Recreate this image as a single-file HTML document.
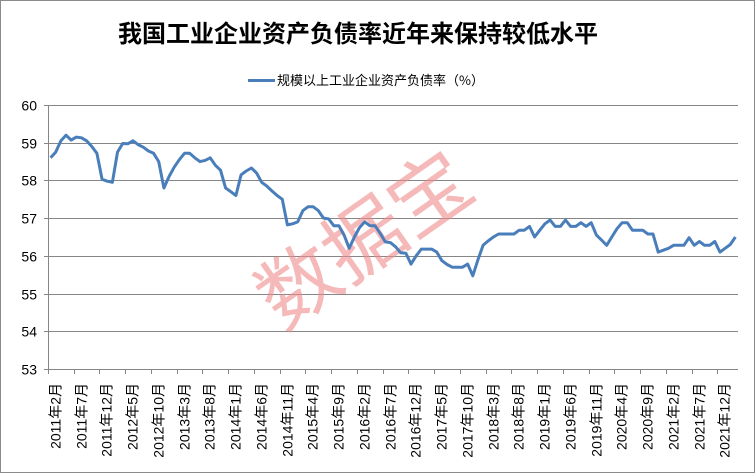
<!DOCTYPE html>
<html><head><meta charset="utf-8"><style>
html,body{margin:0;padding:0;background:#fff;}
svg{display:block;}
</style></head><body>
<svg width="755" height="473" xmlns="http://www.w3.org/2000/svg" font-family="Liberation Sans, Noto Sans CJK SC, sans-serif">
<rect x="0.5" y="0.5" width="754" height="472" fill="#fff" stroke="#8a8a8a"/>
<text x="358" y="42" text-anchor="middle" font-size="24" font-weight="bold" fill="#000" font-family="Noto Sans CJK SC, sans-serif">我国工业企业资产负债率近年来保持较低水平</text>
<line x1="248" y1="80.5" x2="275" y2="80.5" stroke="#4a7ebb" stroke-width="3"/>
<text x="277" y="85" font-size="13" fill="#000" font-family="Noto Sans CJK SC, sans-serif">规模以上工业企业资产负债率（%）</text>
<g id="grid" stroke="#868686" stroke-width="1"></g>
<g id="ylab" font-size="14" fill="#000" text-anchor="end"></g>
<g id="xlab" font-size="14" fill="#000" font-family="Liberation Sans, Noto Sans CJK SC, sans-serif"></g>
<text x="0" y="0" font-size="80" fill="#f08a8a" fill-opacity="0.6" font-family="Noto Sans CJK SC, sans-serif" transform="translate(368,245) rotate(-35)" text-anchor="middle" dominant-baseline="middle">数据宝</text>
<polyline id="ln" fill="none" stroke="#4a7ebb" stroke-width="3" stroke-linejoin="round"/>
</svg>
<script>
var ns="http://www.w3.org/2000/svg";
var d=[58.6,58.75,59.05,59.2,59.07,59.15,59.13,59.05,58.9,58.72,58.03,57.98,57.95,58.75,58.98,58.97,59.05,58.95,58.88,58.78,58.72,58.5,57.8,58.1,58.35,58.55,58.72,58.72,58.6,58.5,58.53,58.6,58.4,58.27,57.8,57.7,57.6,58.15,58.25,58.33,58.2,57.95,57.85,57.72,57.6,57.5,56.82,56.85,56.9,57.2,57.3,57.3,57.2,57.0,56.98,56.8,56.8,56.55,56.2,56.5,56.75,56.9,56.8,56.8,56.6,56.37,56.35,56.24,56.08,56.07,55.78,56.0,56.18,56.18,56.18,56.1,55.87,55.77,55.7,55.7,55.7,55.78,55.47,55.9,56.28,56.4,56.5,56.58,56.58,56.58,56.58,56.68,56.68,56.78,56.5,56.68,56.85,56.95,56.78,56.78,56.95,56.78,56.78,56.88,56.78,56.88,56.55,56.42,56.28,56.5,56.72,56.88,56.88,56.68,56.68,56.68,56.58,56.58,56.1,56.15,56.2,56.28,56.28,56.28,56.48,56.28,56.38,56.28,56.28,56.38,56.1,56.2,56.3,56.5];
var X0=48,X1=738,N=134,w=(X1-X0)/N;
function Y(v){return 105+(60-v)*37.71;}
function el(t,a,p){var e=document.createElementNS(ns,t);for(var k in a)e.setAttribute(k,a[k]);p.appendChild(e);return e;}
var g=document.getElementById('grid'),yl=document.getElementById('ylab'),xl=document.getElementById('xlab');
for(var v=53;v<=60;v++){var y=Math.round(Y(v))+0.5;el('line',{x1:X0-4,y1:y,x2:X1,y2:y},g);var t=el('text',{x:37,y:y+5},yl);t.textContent=v;}
el('line',{x1:X0+0.5,y1:105,x2:X0+0.5,y2:Y(53)},g);
for(var i=0;i<=N;i+=5){var x=Math.round(X0+i*w)+0.5;el('line',{x1:x,y1:Y(53),x2:x,y2:Y(53)+5},g);
 if(i<N){var m=i+1,yr=2011+Math.floor(m/12),mo=m%12+1;var t=el('text',{x:0,y:0,transform:'translate('+(x+12)+',383) rotate(-90)','text-anchor':'end'},xl);t.textContent=yr+'年'+mo+'月';}}
document.getElementById('ln').setAttribute('points',d.map(function(v,i){return (X0+(i+0.5)*w).toFixed(1)+','+Y(v).toFixed(1)}).join(' '));
</script>
</body></html>
